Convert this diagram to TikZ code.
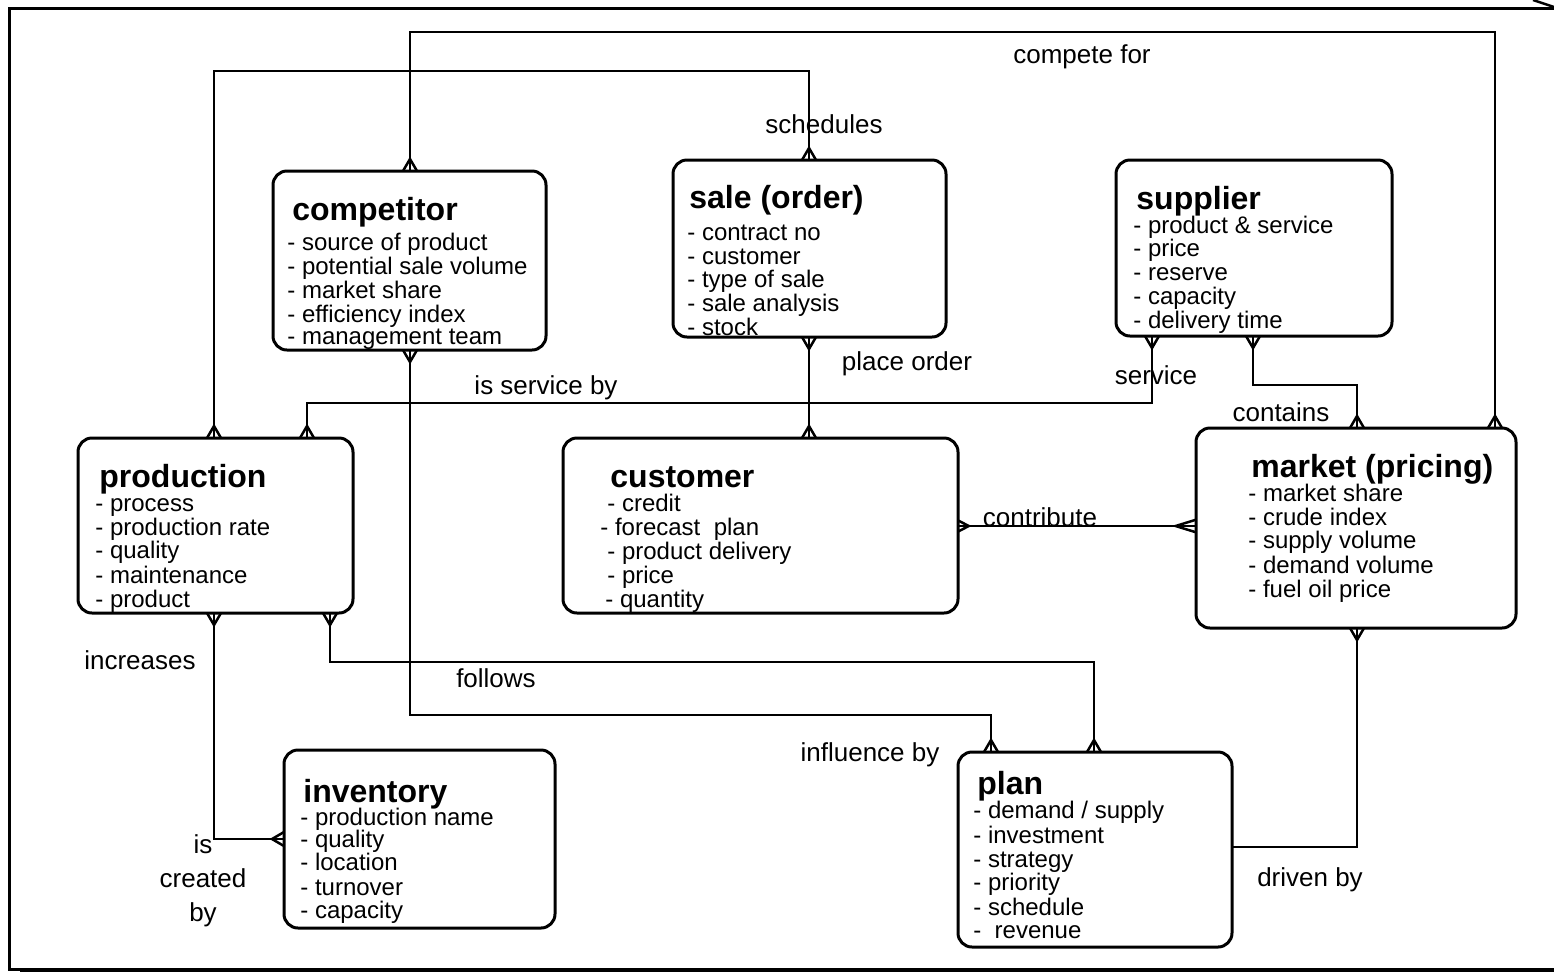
\documentclass[tikz,border=0pt]{standalone}
\usepackage{fontspec}
\setmainfont{Liberation Sans}
\usetikzlibrary{fit}
\begin{document}
\begin{tikzpicture}[x=0.5bp,y=-0.5bp,
  conn/.style={line width=1.25bp},
  entity/.style={draw, line width=1.5bp, rounded corners=7bp, inner sep=0pt, outer sep=0pt},
  title/.style={anchor=base west, inner sep=0pt, font=\bfseries\fontsize{16bp}{16bp}\selectfont},
  item/.style={anchor=base west, inner sep=0pt, font=\fontsize{12bp}{12bp}\selectfont},
  lbl/.style={inner sep=0pt, font=\fontsize{13bp}{17bp}\selectfont, align=center},
  crow/.pic={\draw[conn] (-7,0) -- (0,-12) -- (7,0);}
]
\useasboundingbox (0,0) rectangle (1554,973);

% outer frame
\draw[line width=1.5bp] (1554,8) -- (9,8) -- (9,969) -- (20,969);
\draw[line width=2.2bp] (20,970) -- (1554,970);
\draw[line width=1.2bp] (1533,0) -- (1554,7);

% entities
\node[entity, fit={(273,171) (546,350)}] (comp) {};
\node[entity, fit={(673,160) (946,337)}] (sale) {};
\node[entity, fit={(1116,160) (1392,336)}] (sup) {};
\node[entity, fit={(78,438) (353,613)}] (prod) {};
\node[entity, fit={(563,438) (958,613)}] (cust) {};
\node[entity, fit={(1196,428) (1516,628)}] (mkt) {};
\node[entity, fit={(284,750) (555,928)}] (inv) {};
\node[entity, fit={(958,752) (1232,947)}] (plan) {};

% entity titles and attributes
\node[title] (comp-t) at (292,220) {competitor};
\foreach \yy/\txt [count=\i] in {250/{- source of product}, 274/{- potential sale volume}, 298/{- market share}, 322/{- efficiency index}, 344/{- management team}}
  \node[item] (comp-\i) at (287,\yy) {\txt};

\node[title] (sale-t) at (689,208) {sale (order)};
\foreach \yy/\txt [count=\i] in {240/{- contract no}, 264/{- customer}, 287/{- type of sale}, 311/{- sale analysis}, 335/{- stock}}
  \node[item] (sale-\i) at (687,\yy) {\txt};

\node[title] (sup-t) at (1136,209) {supplier};
\foreach \yy/\txt [count=\i] in {233/{- product \& service}, 256/{- price}, 280/{- reserve}, 304/{- capacity}, 328/{- delivery time}}
  \node[item] (sup-\i) at (1133,\yy) {\txt};

\node[title] (prod-t) at (99,487) {production};
\foreach \yy/\txt [count=\i] in {511/{- process}, 535/{- production rate}, 558/{- quality}, 583/{- maintenance}, 607/{- product}}
  \node[item] (prod-\i) at (95,\yy) {\txt};

\node[title] (cust-t) at (610,487) {customer};
\foreach \xx/\yy/\txt [count=\i] in {607/511/{- credit}, 600/535/{- forecast\ \ plan}, 607/559/{- product delivery}, 607/583/{- price}, 605/607/{- quantity}}
  \node[item] (cust-\i) at (\xx,\yy) {\txt};

\node[title] (mkt-t) at (1251,477) {market (pricing)};
\foreach \yy/\txt [count=\i] in {501/{- market share}, 525/{- crude index}, 548/{- supply volume}, 573/{- demand volume}, 597/{- fuel oil price}}
  \node[item] (mkt-\i) at (1248,\yy) {\txt};

\node[title] (inv-t) at (303,802) {inventory};
\foreach \yy/\txt [count=\i] in {825/{- production name}, 847/{- quality}, 870/{- location}, 895/{- turnover}, 918/{- capacity}}
  \node[item] (inv-\i) at (300,\yy) {\txt};

\node[title] (plan-t) at (977,794) {plan};
\foreach \yy/\txt [count=\i] in {818/{- demand / supply}, 843/{- investment}, 867/{- strategy}, 890/{- priority}, 915/{- schedule}, 938/{-\ \ revenue}}
  \node[item] (plan-\i) at (973,\yy) {\txt};

% relationships
\draw[conn] (410,0 |- comp.north) |- (1495,32) -- (1495,0 |- mkt.north);
\draw[conn] (214,0 |- prod.north) |- (809,71) -- (809,0 |- sale.north);
\draw[conn] (809,0 |- sale.south) -- (809,0 |- cust.north);
\draw[conn] (1152,0 |- sup.south) |- (307,403) -- (307,0 |- prod.north);
\draw[conn] (1253,0 |- sup.south) |- (1357,385) -- (1357,0 |- mkt.north);
\draw[conn] (cust.east |- 0,526) -- (mkt.west |- 0,526);
\draw[conn] (410,0 |- comp.south) |- (991,715) -- (991,0 |- plan.north);
\draw[conn] (330,0 |- prod.south) |- (1094,662) -- (1094,0 |- plan.north);
\draw[conn] (214,0 |- prod.south) |- (inv.west |- 0,839);
\draw[conn] (plan.east |- 0,847) -| (1357,0 |- mkt.south);

% crow's feet (many ends)
\pic at (410,0 |- comp.north) {crow};
\pic[rotate=180] at (410,0 |- comp.south) {crow};
\pic at (809,0 |- sale.north) {crow};
\pic[rotate=180] at (809,0 |- sale.south) {crow};
\pic at (809,0 |- cust.north) {crow};
\pic[rotate=180] at (1152,0 |- sup.south) {crow};
\pic[rotate=180] at (1253,0 |- sup.south) {crow};
\pic at (214,0 |- prod.north) {crow};
\pic at (307,0 |- prod.north) {crow};
\pic[rotate=180] at (214,0 |- prod.south) {crow};
\pic[rotate=180] at (330,0 |- prod.south) {crow};
\pic at (1357,0 |- mkt.north) {crow};
\pic at (1495,0 |- mkt.north) {crow};
\pic[rotate=180] at (1357,0 |- mkt.south) {crow};
\pic[rotate=90, yscale=1.7, xscale=0.9] at (mkt.west |- 0,526) {crow};
\pic[rotate=-90, yscale=0.9, xscale=0.8] at (cust.east |- 0,526) {crow};
\pic at (991,0 |- plan.north) {crow};
\pic at (1094,0 |- plan.north) {crow};
\pic[rotate=90] at (inv.west |- 0,839) {crow};

% relationship labels
\node[lbl] (l-compete) at (1082,57) {compete for};
\node[lbl] (l-sched) at (824,124) {schedules};
\node[lbl] (l-place) at (907,364) {place order};
\node[lbl] (l-isserv) at (546,388) {is service by};
\node[lbl] (l-serv) at (1156,375) {service};
\node[lbl] (l-cont) at (1281,412) {contains};
\node[lbl] (l-contr) at (1040,517) {contribute};
\node[lbl] (l-incr) at (140,660) {increases};
\node[lbl] (l-follow) at (496,678) {follows};
\node[lbl] (l-infl) at (870,755) {influence by};
\node[lbl] (l-created) at (203,881) {is\\created\\by};
\node[lbl] (l-driven) at (1310,880) {driven by};
\end{tikzpicture}
\end{document}
